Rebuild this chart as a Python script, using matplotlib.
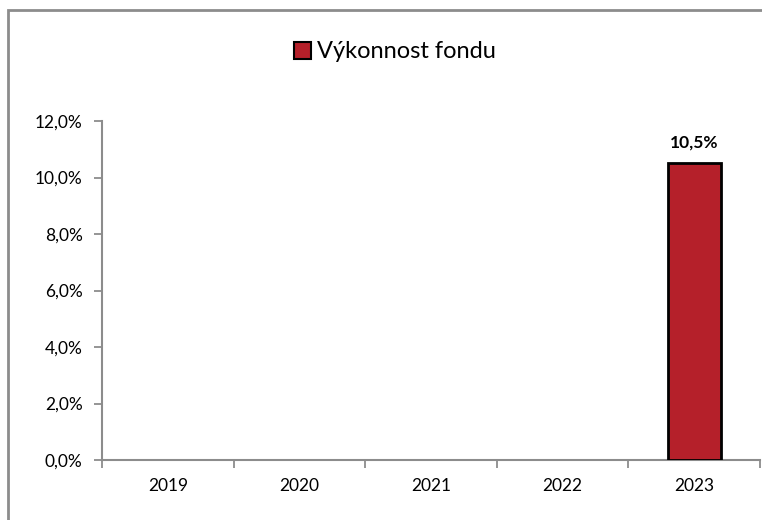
import matplotlib.pyplot as plt
from matplotlib.patches import Rectangle, Patch
from matplotlib.ticker import FixedLocator, NullFormatter

plt.rcParams['font.family'] = ['Lato', 'DejaVu Sans']

# data
years = ['2019', '2020', '2021', '2022', '2023']
performance = [None, None, None, None, 10.5]
series_name = 'Výkonnost fondu'
y_ticks = [0, 2, 4, 6, 8, 10, 12]

bar_color = '#B5202A'
grid_gray = '#8C8C8C'

fig = plt.figure(figsize=(7.62, 5.2), dpi=100)
ax = fig.add_axes([102 / 762, 60 / 520, 658 / 762, 339 / 520])

# outer chart border (cut by the image edges right and bottom)
fig.patches.append(Rectangle((8 / 762, -0.1), 1.2, 1 - 10 / 520 + 0.1,
                             transform=fig.transFigure, fill=False,
                             edgecolor=grid_gray, linewidth=2))

xs = list(range(len(years)))
bx = [x for x, v in zip(xs, performance) if v is not None]
bv = [v for v in performance if v is not None]
ax.bar(bx, bv, width=0.40, color=bar_color, edgecolor='black', linewidth=2, zorder=3)
for x, v in zip(bx, bv):
    ax.text(x, v + 0.45, f'{v:.1f}%'.replace('.', ','), ha='center', va='bottom',
            fontsize=12.5, fontweight='bold')

ax.set_xlim(-0.5, len(years) - 0.5)
ax.set_ylim(0, 12)
ax.set_yticks(y_ticks)
ax.set_yticklabels([f'{t:.1f}%'.replace('.', ',') for t in y_ticks], fontsize=12.5)

# x ticks at category boundaries, labels in the middle
ax.xaxis.set_major_locator(FixedLocator([i - 0.5 for i in range(len(years) + 1)]))
ax.xaxis.set_major_formatter(NullFormatter())
ax.xaxis.set_minor_locator(FixedLocator(xs))
ax.set_xticklabels(years, minor=True, fontsize=12.5)
ax.tick_params(axis='x', which='major', length=6, width=1.3, color=grid_gray, direction='out')
ax.tick_params(axis='x', which='minor', length=0, pad=13)
ax.tick_params(axis='y', length=6, width=1.3, color=grid_gray, direction='out', pad=8)

for s in ['top', 'right']:
    ax.spines[s].set_visible(False)
for s in ['left', 'bottom']:
    ax.spines[s].set_color(grid_gray)
    ax.spines[s].set_linewidth(1.5)

handle = Patch(facecolor=bar_color, edgecolor='black', linewidth=1.5)
fig.legend([handle], [series_name], loc='center', bbox_to_anchor=(395 / 762, 1 - 52 / 520),
           frameon=False, fontsize=17, handlelength=0.7, handleheight=0.7,
           handletextpad=0.25)

fig.savefig('out.png', dpi=100)
